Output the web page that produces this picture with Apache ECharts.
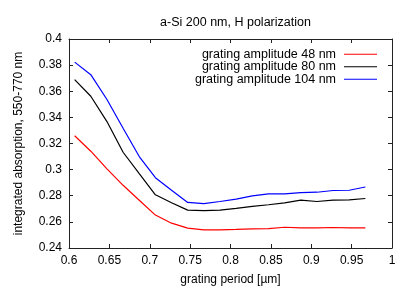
<!DOCTYPE html>
<html><head><meta charset="utf-8">
<script src="https://cdn.jsdelivr.net/npm/echarts@6/dist/echarts.min.js"></script>
<style>html,body{margin:0;padding:0;background:#fff}#c{width:415px;height:291px}</style>
</head><body><div id="c"></div>
<script>
var period = [0.607,0.627,0.647,0.667,0.687,0.707,0.727,0.747,0.767,0.787,0.807,0.827,0.847,0.867,0.887,0.907,0.927,0.947,0.967];
var amp48  = [0.3259,0.3141,0.3006,0.2880,0.2766,0.2652,0.2590,0.2552,0.2539,0.2539,0.2542,0.2547,0.2549,0.2559,0.2554,0.2554,0.2557,0.2554,0.2554];
var amp80  = [0.3689,0.3562,0.3368,0.3133,0.2969,0.2807,0.2746,0.2690,0.2686,0.2690,0.2703,0.2718,0.2731,0.2746,0.2766,0.2756,0.2766,0.2769,0.2779];
var amp104 = [0.3823,0.3727,0.3537,0.3317,0.3100,0.2938,0.2842,0.2749,0.2739,0.2756,0.2774,0.2799,0.2814,0.2814,0.2824,0.2827,0.2840,0.2842,0.2867];
var seriesNames = ['grating amplitude 48 nm','grating amplitude 80 nm','grating amplitude 104 nm'];
var seriesColors = ['#ff0000','#000000','#0000ff'];
var titleText = 'a-Si 200 nm, H polarization';
var xName = 'grating period [\u00b5m]';
var yName = 'integrated absorption, 550-770 nm';

function pairs(ys){ return period.map(function(x,i){ return [x, ys[i]]; }); }
var font = 'Liberation Sans';
var axisCol = '#222';
var chart = echarts.init(document.getElementById('c'), null, {renderer:'canvas'});
var vals = [amp48, amp80, amp104];
var legends = seriesNames.map(function(n,i){
  return {
    data:[n], icon:'rect',
    right: 38, top: 48.3 + i*12.5 - 0.5, orient:'vertical', align:'right',
    itemWidth: 33, itemHeight: 1, itemGap: 0, padding: 0,
    textStyle:{fontFamily:font, fontSize:12.5, color:'#000', padding:[0,3,0,0]},
    itemStyle:{color:seriesColors[i], borderWidth:0},
    lineStyle:{color:seriesColors[i], width:1.2}
  };
});
chart.setOption({
  animation:false,
  color: seriesColors,
  title:{text:titleText, left: 230.5, textAlign:'center', top: 11,
    textStyle:{fontFamily:font, fontSize:12.5, fontWeight:'normal', color:'#000'}},
  legend: legends,
  grid:{left:69, right:23, top:39, bottom:41, containLabel:false},
  xAxis:[{type:'value', min:0.6, max:1, interval:0.05, position:'bottom',
    name:xName, nameLocation:'middle', nameGap:26,
    nameTextStyle:{fontFamily:font, fontSize:12, color:'#000'},
    axisLine:{show:true, onZero:false, lineStyle:{color:axisCol, width:1}},
    axisTick:{show:true, inside:true, length:4, lineStyle:{color:axisCol}},
    axisLabel:{fontFamily:font, fontSize:12, color:'#000', margin:7},
    splitLine:{show:false}},
   {type:'value', min:0.6, max:1, interval:0.05, position:'top',
    axisLine:{show:true, onZero:false, lineStyle:{color:axisCol, width:1}},
    axisTick:{show:true, inside:true, length:4, lineStyle:{color:axisCol}},
    axisLabel:{show:false}, splitLine:{show:false}}],
  yAxis:[{type:'value', min:0.24, max:0.4, interval:0.02, position:'left',
    name:yName, nameLocation:'middle', nameGap:44, nameRotate:90,
    nameTextStyle:{fontFamily:font, fontSize:12, color:'#000'},
    axisLine:{show:true, onZero:false, lineStyle:{color:axisCol, width:1}},
    axisTick:{show:true, inside:true, length:4, lineStyle:{color:axisCol}},
    axisLabel:{fontFamily:font, fontSize:12, color:'#000', margin:7},
    splitLine:{show:false}},
   {type:'value', min:0.24, max:0.4, interval:0.02, position:'right',
    axisLine:{show:true, onZero:false, lineStyle:{color:axisCol, width:1}},
    axisTick:{show:true, inside:true, length:4, lineStyle:{color:axisCol}},
    axisLabel:{show:false}, splitLine:{show:false}}],
  series: seriesNames.map(function(n,i){
    return {name:n, type:'line', data:pairs(vals[i]), symbol:'none', showSymbol:false,
      lineStyle:{color:seriesColors[i], width:1.2}, itemStyle:{color:seriesColors[i]}};
  })
});
</script></body></html>
